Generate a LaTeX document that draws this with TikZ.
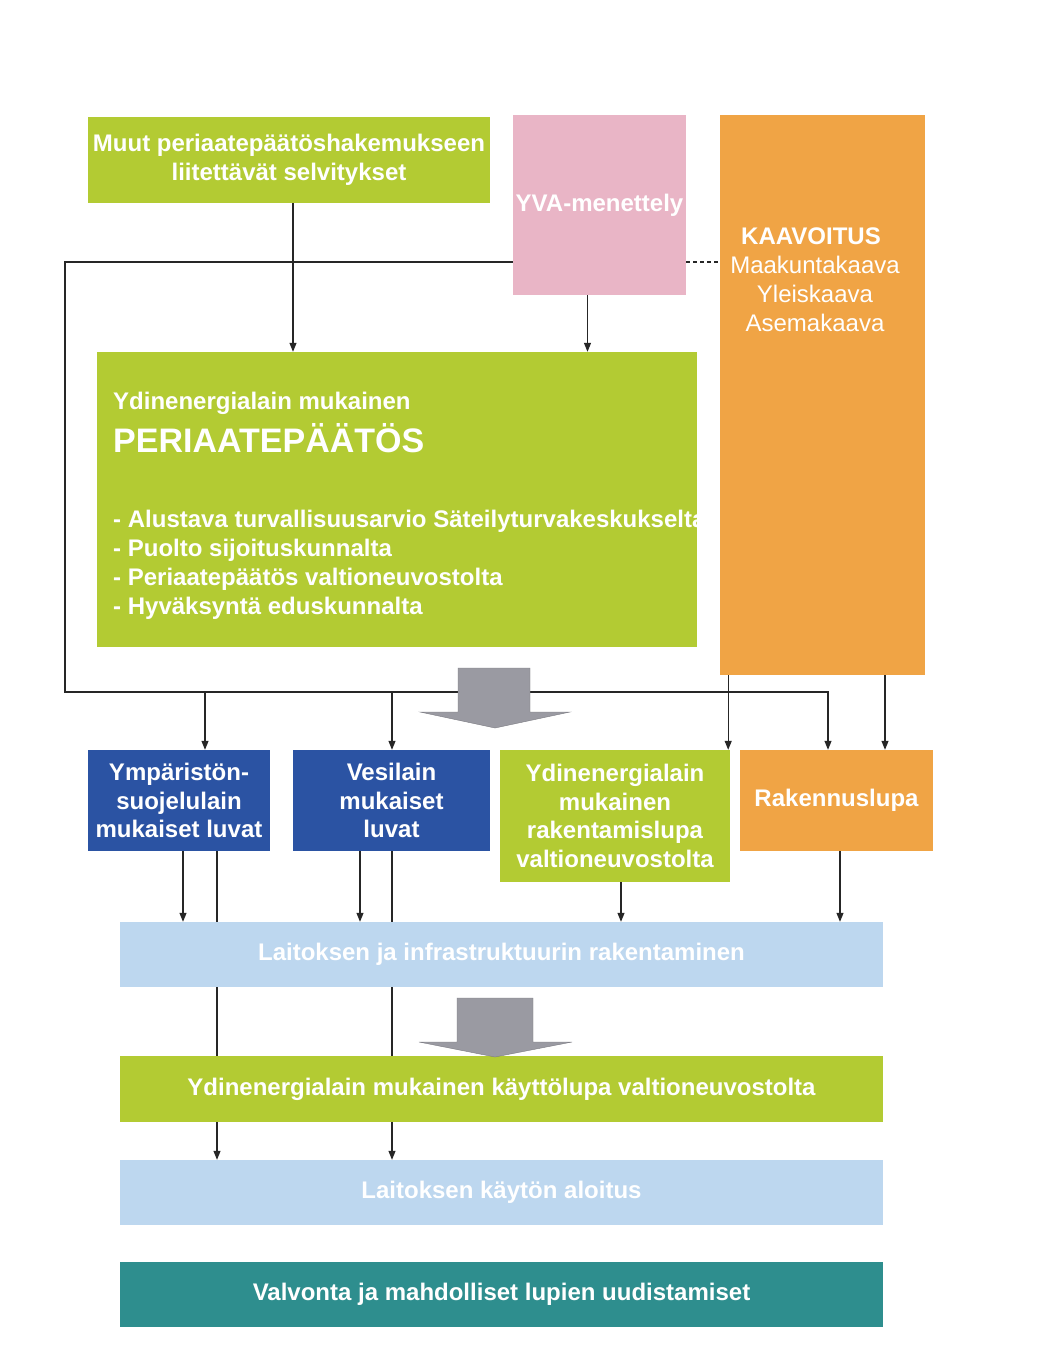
\documentclass[tikz,border=0pt]{standalone}
\usepackage{fontspec}
\setmainfont{Liberation Sans}
\usetikzlibrary{arrows.meta,backgrounds}
\definecolor{limeb}{HTML}{B3CB33}
\definecolor{pinkb}{HTML}{E9B5C6}
\definecolor{orangeb}{HTML}{F0A445}
\definecolor{navyb}{HTML}{2B53A3}
\definecolor{skyb}{HTML}{BDD7EF}
\definecolor{tealb}{HTML}{2E8E8E}
\definecolor{greyarr}{HTML}{9A9AA2}
\begin{document}
\begin{tikzpicture}[x=1pt,y=-1pt,
  box/.style={draw=none, inner sep=0pt, text=white, align=center,
    font=\fontsize{24}{28.5}\selectfont\bfseries},
  ptxt/.style={inner sep=0pt, text=white, anchor=base west,
    font=\fontsize{24}{28.5}\selectfont\bfseries},
  arr/.style={-{Triangle[length=9pt,width=7pt]}, line width=1.1pt, draw=black!85},
  ln/.style={line width=1.1pt, draw=black!85},
  bigarrow/.style={fill=greyarr, draw=greyarr!80!black, line width=0.4pt}]
\useasboundingbox (0,0) rectangle (1047,1360);

% ---------- boxes ----------
\node[box, fill=limeb, minimum width=402, minimum height=86] (muut) at (289,160)
  {Muut periaatepäätöshakemukseen\\liitettävät selvitykset};
\node[box, fill=pinkb, minimum width=173, minimum height=180] (yva) at (599.5,205)
  {YVA-menettely};
\node[box, fill=limeb, minimum width=600, minimum height=295] (peri) at (397,499.5) {};
\node[ptxt] (p1) at (113,409) {Ydinenergialain mukainen};
\node[ptxt, font=\fontsize{34}{40}\selectfont\bfseries] (p2) at (113,452) {PERIAATEPÄÄTÖS};
\node[ptxt] (p3) at (113,527) {- Alustava turvallisuusarvio Säteilyturvakeskukselta};
\node[ptxt] (p4) at (113,556) {- Puolto sijoituskunnalta};
\node[ptxt] (p5) at (113,585) {- Periaatepäätös valtioneuvostolta};
\node[ptxt] (p6) at (113,614) {- Hyväksyntä eduskunnalta};
\node[box, fill=orangeb, minimum width=205, minimum height=560] (kaav) at (822.5,395) {};
\node[box, anchor=north, font=\fontsize{24}{29}\selectfont] (kaavtxt) at (815,228)
  {\bfseries KAAVOITUS\hspace*{8pt}\\\mdseries Maakuntakaava\\Yleiskaava\\Asemakaava};

\node[box, fill=navyb, minimum width=182, minimum height=101] (ymp) at (179,800.5)
  {Ympäristön-\\suojelulain\\mukaiset luvat};
\node[box, fill=navyb, minimum width=197, minimum height=101] (vesi) at (391.5,800.5)
  {Vesilain\\mukaiset\\luvat};
\node[box, fill=limeb, minimum width=230, minimum height=132] (ydin) at (615,816)
  {Ydinenergialain\\mukainen\\rakentamislupa\\valtioneuvostolta};
\node[box, fill=orangeb, minimum width=193, minimum height=101] (rak) at (836.5,800.5)
  {Rakennuslupa};

\node[box, fill=skyb, minimum width=763, minimum height=65] (lait) at (501.5,954.5)
  {Laitoksen ja infrastruktuurin rakentaminen};
\node[box, fill=limeb, minimum width=763, minimum height=66] (kaytto) at (501.5,1089)
  {Ydinenergialain mukainen käyttölupa valtioneuvostolta};
\node[box, fill=skyb, minimum width=763, minimum height=65] (aloitus) at (501.5,1192.5)
  {Laitoksen käytön aloitus};
\node[box, fill=tealb, minimum width=763, minimum height=65] (valv) at (501.5,1294.5)
  {Valvonta ja mahdolliset lupien uudistamiset};

% ---------- big grey arrows ----------
\fill[bigarrow] (458,668) -- (530,668) -- (530,712) -- (570,712) -- (495,728)
  -- (420,712) -- (458,712) -- cycle;
\fill[bigarrow] (457,998) -- (533,998) -- (533,1042) -- (572,1042) -- (495,1057)
  -- (419,1042) -- (457,1042) -- cycle;

% ---------- connectors (behind boxes) ----------
\begin{pgfonlayer}{background}
\fill[white] (0,0) rectangle (1047,1360);
\coordinate (topL) at (65,262);
\coordinate (botL) at (65,692);
\coordinate (muutA) at ([xshift=4]muut.south);
\coordinate (yvaA) at ([xshift=-12]yva.south);
\coordinate (ympA) at ([xshift=26]ymp.north);
\coordinate (vesiA) at ([xshift=0.5]vesi.north);
\coordinate (rakA) at ([xshift=-8.5]rak.north);
\coordinate (rakB) at ([xshift=48.5]rak.north);
\coordinate (ydinA) at ([xshift=-2]ydin.north east);
\coordinate (ympB) at ([xshift=4]ymp.south);
\coordinate (ympC) at ([xshift=38]ymp.south);
\coordinate (vesiB) at ([xshift=-31.5]vesi.south);
\coordinate (vesiC) at ([xshift=0.5]vesi.south);
\coordinate (ydinB) at ([xshift=6]ydin.south);
\coordinate (rakC) at ([xshift=3.5]rak.south);

\draw[arr] (muutA) -- (muutA |- peri.north);
\draw[arr] (yvaA) -- (yvaA |- peri.north);
\draw[arr] (topL -| yva.west) -- (topL) -- (botL) -- (botL -| rakA) -- (rakA);
\draw[ln, dash pattern=on 4pt off 3pt] (topL -| yva.east) -- (topL -| kaav.west);
\draw[arr] (ympA |- botL) -- (ympA);
\draw[arr] (vesiA |- botL) -- (vesiA);
\draw[arr] (kaav.south -| ydinA) -- (ydinA);
\draw[arr] (kaav.south -| rakB) -- (rakB);

\draw[arr] (ympB) -- (ympB |- lait.north);
\draw[arr] (ympC) -- (ympC |- aloitus.north);
\draw[arr] (vesiB) -- (vesiB |- lait.north);
\draw[arr] (vesiC) -- (vesiC |- aloitus.north);
\draw[arr] (ydinB) -- (ydinB |- lait.north);
\draw[arr] (rakC) -- (rakC |- lait.north);
\end{pgfonlayer}
\end{tikzpicture}
\end{document}
